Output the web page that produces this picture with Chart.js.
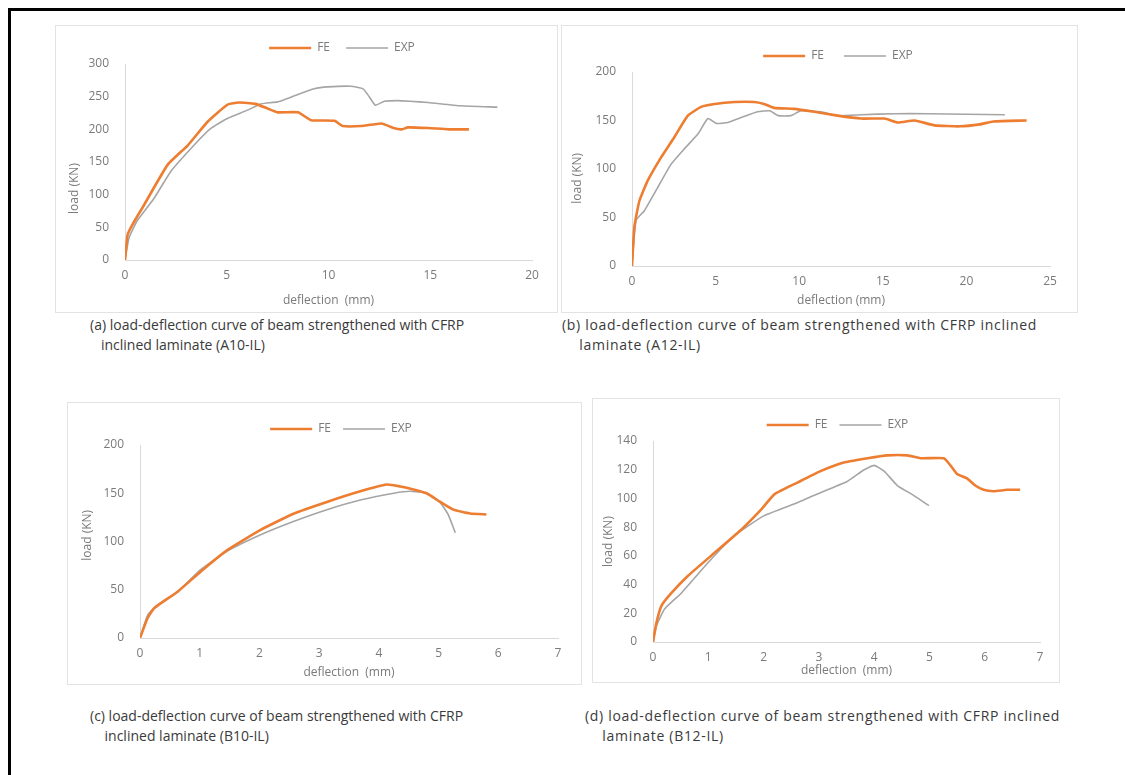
<!DOCTYPE html>
<html>
<head>
<meta charset="utf-8">
<script src="https://cdn.jsdelivr.net/npm/chart.js@4.4.1/dist/chart.umd.min.js"></script>
<style>
  body { margin: 0; width: 1125px; height: 775px; background: #fff; position: relative; overflow: hidden; }
  .frame { position: absolute; left: 8px; top: 8px; width: 1130px; height: 780px;
           border-left: 3px solid #000; border-top: 3px solid #000; }
  .box { position: absolute; border: 1px solid #e3e3e3; box-sizing: border-box; }
  .cap { position: absolute; font-family: "Open Sans", sans-serif;
         font-size: 14px; color: #3a3a3a; line-height: 20px; white-space: nowrap; }
  .wide { letter-spacing: 0.7px; }
</style>
</head>
<body>
<div class="frame"></div>

<div class="box" style="left:55px;top:25px;width:503px;height:288px"><canvas id="chartA"></canvas></div>
<div class="box" style="left:561px;top:25px;width:517px;height:288px"><canvas id="chartB"></canvas></div>
<div class="box" style="left:67px;top:402px;width:515px;height:283px"><canvas id="chartC"></canvas></div>
<div class="box" style="left:592px;top:398px;width:468px;height:285px"><canvas id="chartD"></canvas></div>

<div class="cap" style="left:90px;top:315px">(a) load-deflection curve of beam strengthened with CFRP<br>&nbsp;&nbsp;&nbsp;inclined laminate (A10-IL)</div>
<div class="cap wide" style="left:562px;top:315px">(b) load-deflection curve of beam strengthened with CFRP inclined<br>&nbsp;&nbsp;&nbsp;&nbsp;laminate (A12-IL)</div>
<div class="cap" style="left:90px;top:706px">(c) load-deflection curve of beam strengthened with CFRP<br>&nbsp;&nbsp;&nbsp;&nbsp;inclined laminate (B10-IL)</div>
<div class="cap wide" style="left:585px;top:706px">(d) load-deflection curve of beam strengthened with CFRP inclined<br>&nbsp;&nbsp;&nbsp;&nbsp;laminate (B12-IL)</div>

<script>
// --------- Data (deflection mm, load kN) ---------
// (a) A10-IL
const a10FeX  = [0, 0.13, 0.38, 0.95, 2.1, 3.1, 4.07, 5.05, 5.6, 6.4, 7.0, 7.5, 8.5, 9.15, 10.3, 10.7, 11.6, 12.6, 13.2, 13.6, 13.9, 14.9, 15.9, 16.9];
const a10FeY  = [0, 39, 55, 85, 146, 176, 212, 238, 241, 239, 232, 226, 226, 214, 213, 205, 205, 209, 202, 200, 203, 202, 200, 200];
const a10ExpX = [0, 0.2, 0.6, 1.44, 2.26, 3.4, 4.2, 5.05, 6.0, 6.7, 7.5, 8.3, 9.3, 9.97, 11.1, 11.7, 12.0, 12.3, 12.75, 13.4, 14.0, 14.9, 16.5, 18.3];
const a10ExpY = [0, 34, 60, 95, 136, 176, 201, 217, 229, 239, 242, 251, 262, 265, 266, 262, 250, 237, 243, 244, 243, 241, 236, 234];

// (b) A12-IL
const a12FeX  = [0, 0.14, 0.44, 0.94, 1.74, 2.54, 3.34, 4.14, 4.94, 6.14, 7.3, 7.9, 8.5, 9.7, 10.9, 12.3, 13.7, 15.1, 15.9, 16.9, 18.1, 19.6, 20.8, 21.6, 23.6];
const a12FeY  = [0, 40, 67, 88, 112, 133, 155, 164, 167, 169, 169, 167, 163, 162, 159, 155, 152, 152, 148, 150, 145, 144, 146, 149, 150];
const a12ExpX = [0, 0.24, 0.74, 1.54, 2.34, 3.14, 3.94, 4.54, 5.04, 5.74, 6.54, 7.5, 8.24, 8.74, 9.5, 10.1, 11.3, 12.3, 13.7, 15.7, 17.7, 22.3];
const a12ExpY = [0, 47, 57, 81, 105, 121, 136, 152, 147, 148, 153, 159, 160, 155, 155, 160, 159, 155, 156, 157, 157, 156];

// (c) B10-IL
const b10FeX  = [0, 0.13, 0.24, 0.63, 1.02, 1.46, 2.02, 2.58, 3.13, 3.69, 4.13, 4.36, 4.58, 4.8, 5.03, 5.25, 5.53, 5.8];
const b10FeY  = [0, 21, 31, 48, 69, 91, 112, 129, 141, 152, 159, 157, 154, 150, 141, 133, 129, 128];
const b10ExpX = [0, 0.13, 0.29, 0.63, 1.02, 1.46, 2.02, 2.58, 3.13, 3.69, 4.25, 4.52, 4.8, 5.03, 5.16, 5.28];
const b10ExpY = [0, 24, 34, 48, 71, 90, 107, 121, 133, 143, 150, 152, 150, 140, 128, 109];

// (d) B12-IL
const b12FeX  = [0, 0.06, 0.15, 0.33, 0.63, 1.11, 1.59, 1.95, 2.2, 2.61, 3.03, 3.45, 3.88, 4.24, 4.6, 4.84, 5.26, 5.38, 5.5, 5.68, 5.83, 5.98, 6.16, 6.4, 6.64];
const b12FeY  = [0, 13, 25, 34, 46, 62, 78, 92, 103, 111, 119, 125, 128, 130, 130, 128, 128, 123, 117, 114, 109, 106, 105, 106, 106];
const b12ExpX = [0, 0.06, 0.21, 0.51, 0.99, 1.47, 2.01, 2.61, 3.09, 3.52, 3.82, 4.0, 4.18, 4.42, 4.72, 4.99];
const b12ExpY = [0, 11, 23, 34, 55, 74, 88, 97, 105, 112, 120, 123, 119, 109, 102, 95];

// Axis ranges / titles
const xMax  = { A: 20, B: 25, C: 7, D: 7 };
const xStep = { A: 5,  B: 5,  C: 1, D: 1 };
const yMax  = { A: 300, B: 200, C: 200, D: 140 };
const yStep = { A: 50,  B: 50,  C: 50,  D: 20 };
const xTitles = { A: "deflection  (mm)", B: "deflection (mm)", C: "deflection  (mm)", D: "deflection  (mm)" };
const yTitle = "load (KN)";

// --------- Helpers ---------
const FONT = "'Open Sans', sans-serif";
const GREY_TXT = "#7a7a7a";
const FE_COLOR = "#ED7D31";
const EXP_COLOR = "#A5A5A5";

// nudges the legend sideways (the source legends sit right of centre)
const legendShift = {
  id: "legendShift",
  afterLayout(chart, args, opts) {
    const l = chart.legend;
    if (l && opts.dx) {
      l.left += opts.dx;
      l.right += opts.dx;
    }
  }
};

function toPoints(xs, ys) {
  return xs.map((x, i) => ({ x, y: ys[i] }));
}

function makeChart(id, key, fe, exp, dims) {
  const ctx = document.getElementById(id);
  return new Chart(ctx, {
    type: "scatter",
    data: {
      datasets: [
        { label: "FE", data: toPoints(fe[0], fe[1]), showLine: true, borderColor: FE_COLOR,
          backgroundColor: FE_COLOR, borderWidth: 2.6, pointRadius: 0, tension: 0.15, pointStyle: "line" },
        { label: "EXP", data: toPoints(exp[0], exp[1]), showLine: true, borderColor: EXP_COLOR,
          backgroundColor: EXP_COLOR, borderWidth: 1.6, pointRadius: 0, tension: 0.15, pointStyle: "line" }
      ]
    },
    plugins: [legendShift],
    options: {
      responsive: true,
      maintainAspectRatio: false,
      animation: false,
      layout: { padding: dims.pad },
      plugins: {
        legendShift: { dx: dims.legendDx },
        legend: {
          position: "top",
          labels: { usePointStyle: true, pointStyleWidth: 42, boxHeight: 8,
                    color: GREY_TXT, font: { family: FONT, size: 12 }, padding: dims.legendPad }
        },
        tooltip: { enabled: false }
      },
      scales: {
        x: {
          type: "linear", min: 0, max: xMax[key],
          afterFit: (s) => { s.height = dims.bottom; },
          grid: { display: false, drawTicks: true, tickLength: 4, color: "#d9d9d9" },
          border: { display: true, color: "#d9d9d9" },
          ticks: { stepSize: xStep[key], color: GREY_TXT, font: { family: FONT, size: 12 }, padding: 4 },
          title: { display: true, text: xTitles[key], color: GREY_TXT, font: { family: FONT, size: 12 }, padding: { top: 0 } }
        },
        y: {
          min: 0, max: yMax[key],
          afterFit: (s) => { s.width = dims.left; },
          grid: { display: false },
          border: { display: true, color: "#d9d9d9" },
          ticks: { stepSize: yStep[key], color: GREY_TXT, font: { family: FONT, size: 12 }, padding: 8 },
          title: { display: true, text: dims.yText, color: GREY_TXT, font: { family: FONT, size: 12 },
                   padding: { top: dims.yTitlePad, bottom: 2 } }
        }
      }
    }
  });
}

// --------- Build charts ---------
makeChart("chartA", "A", [a10FeX, a10FeY], [a10ExpX, a10ExpY],
  { pad: { top: 0, right: 25, left: 0, bottom: 0 }, left: 69, bottom: 52, legendPad: 16, legendDx: 48,
    yTitlePad: 11, yText: yTitle + " ".repeat(17) });
makeChart("chartB", "B", [a12FeX, a12FeY], [a12ExpX, a12ExpY],
  { pad: { top: 4, right: 27, left: 0, bottom: 0 }, left: 70, bottom: 46, legendPad: 20, legendDx: 32,
    yTitlePad: 8, yText: yTitle + " ".repeat(6) });
makeChart("chartC", "C", [b10FeX, b10FeY], [b10ExpX, b10ExpY],
  { pad: { top: 8, right: 23, left: 0, bottom: 0 }, left: 72, bottom: 46, legendPad: 12, legendDx: 28,
    yTitlePad: 12, yText: " ".repeat(4) + yTitle });
makeChart("chartD", "D", [b12FeX, b12FeY], [b12ExpX, b12ExpY],
  { pad: { top: 8, right: 19, left: 0, bottom: 0 }, left: 60, bottom: 40, legendPad: 12, legendDx: 21,
    yTitlePad: 8, yText: yTitle });
</script>
</body>
</html>
